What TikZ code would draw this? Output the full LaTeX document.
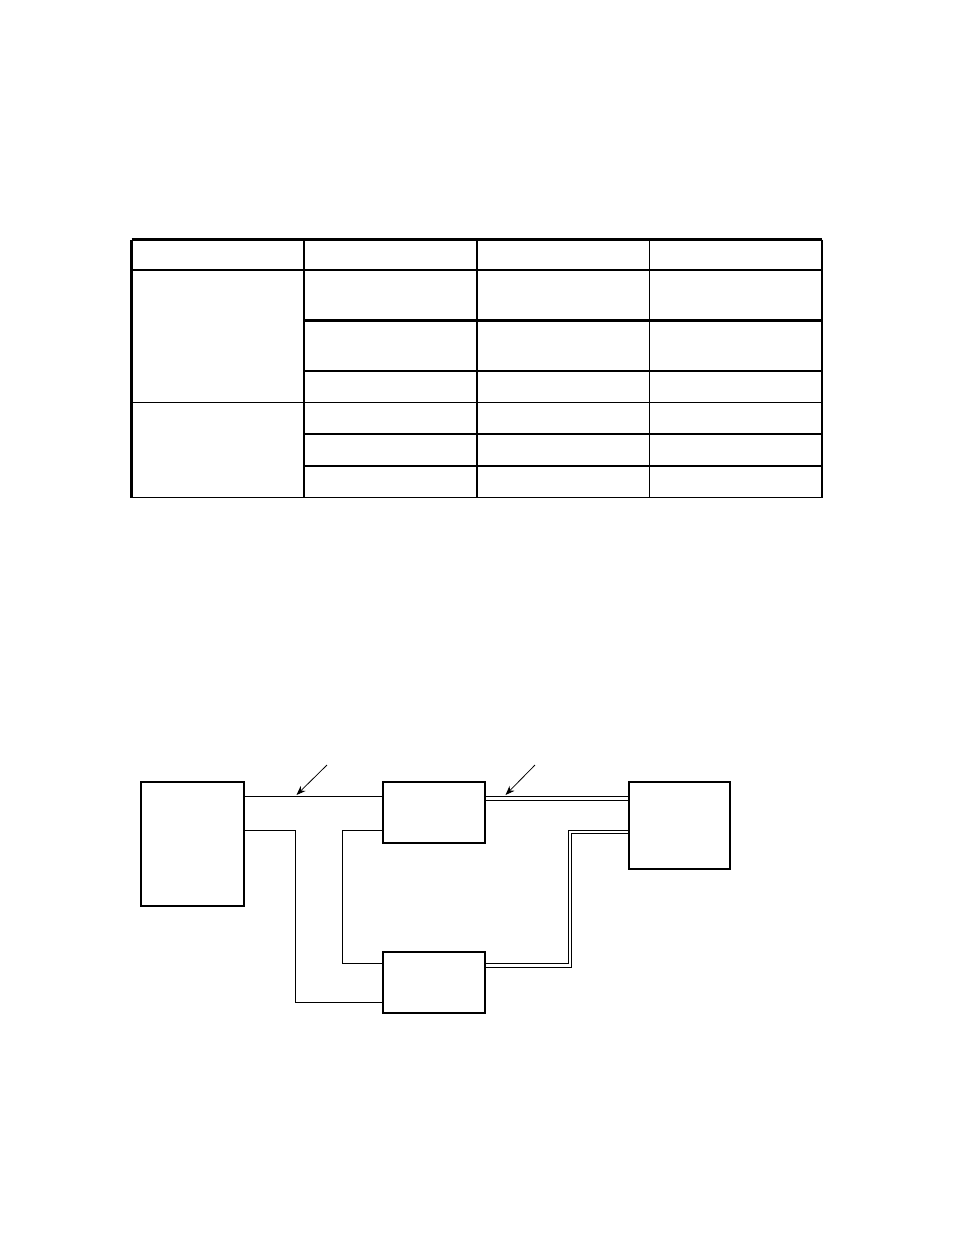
\documentclass[tikz,border=0pt]{standalone}
\usepackage{amsmath}
\usepackage{tikz}
\usetikzlibrary{arrows.meta}

\begin{document}
\begin{tikzpicture}[x=0.6415pt,y=-0.6415pt,rule/.style={line width=0.7pt},ruleT/.style={line width=1.4pt},unit/.style={shape=rectangle,draw=black,line width=0.7pt,inner sep=0pt},wire/.style={line width=0.6pt},pointer/.style={line width=0.5pt,-{Stealth[length=6pt,width=4.5pt]}}]
\def\px{0.6415pt}
\def\tl{131.5};
\def\tr{822};
\def\ttop{239.5};
\def\tbot{497.5};

\useasboundingbox (0,0) rectangle (954,1235);

% table
\foreach \c in {304,477,649.5,\tr} \draw[rule] (\c,\ttop) -- (\c,\tbot);
\foreach \r in {270,402.5,\tbot} \draw[rule] (\tl,\r) -- (\tr,\r);
\foreach \r in {371,434,466} \draw[rule] (304,\r) -- (\tr,\r);
\draw[ruleT] (304,320.5) -- (\tr,320.5);
\draw[ruleT] (\tl,\ttop) -- (\tr,\ttop);
\draw[ruleT] (\tl,\ttop) -- (\tl,\tbot);

% units
\node[unit,minimum width=103*\px,minimum height=124*\px] (A) at (192.5,844) {};
\node[unit,minimum width=102*\px,minimum height=61*\px] (B) at (434,812.5) {};
\node[unit,minimum width=102*\px,minimum height=61*\px] (C) at (434,982.5) {};
\node[unit,minimum width=101*\px,minimum height=87*\px] (D) at (679.5,825.5) {};

\draw[wire] (A.east |- 0,796) -- (B.west |- 0,796);
\draw[wire] (A.east |- 0,830) -| (295,1002) -- (C.west |- 0,1002);
\draw[wire] (B.west |- 0,830) -| (342,963) -- (C.west |- 0,963);
% paired lines
\foreach \dy in {0,4} \draw[wire] (B.east |- 0,796+\dy) -- (D.west |- 0,796+\dy);
\draw[wire] (C.east |- 0,963) -| (568,830) -- (D.west |- 0,830);
\draw[wire] (C.east |- 0,967) -| (571.5,833.5) -- (D.west |- 0,833.5);

\coordinate (p1) at (327,765);
\coordinate (t1) at (296.5,795);
\coordinate (p2) at (535,765);
\coordinate (t2) at (505.5,795);
\draw[pointer] (p1) -- (t1);
\draw[pointer] (p2) -- (t2);

\end{tikzpicture}
\end{document}
